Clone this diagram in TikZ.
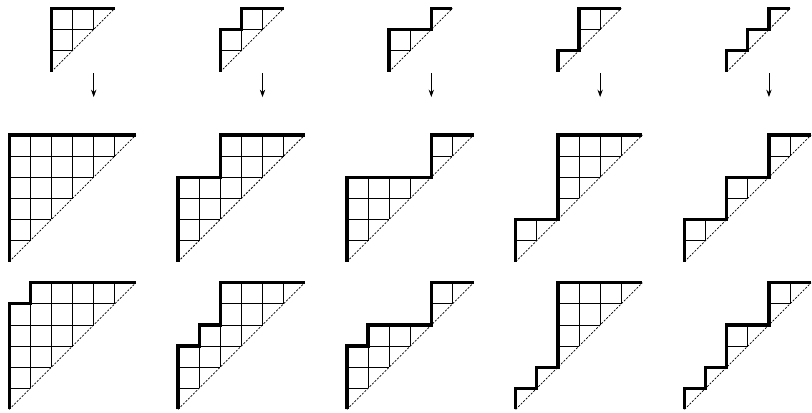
\documentclass[tikz,border=0pt]{standalone}
\usetikzlibrary{arrows.meta}

% #1 origin, #2 size, #3 heights of the columns
\newcommand{\dyck}[3]{%
  \begin{scope}[shift={#1}]
    \foreach \hgt [count=\col] in {#3} {
      \pgfmathtruncatemacro\lft{\col-1}
      \draw[cell] (\lft,\lft) -- (\lft,\hgt);
      \foreach \row in {\col,...,\hgt}
        \draw[cell] (\lft,\row) -- (\col,\row);
    }
    \draw[diag] (0,0) -- (#2,#2);
    \draw[dyckpath] (0,0) \foreach \hgt [count=\col] in {#3} { -- (\col-1,\hgt) -- (\col,\hgt) };
  \end{scope}}

\begin{document}
\begin{tikzpicture}[x=0.5cm, y=0.5cm,
    cell/.style={line width=0.5pt},
    diag/.style={line width=0.5pt, dash pattern=on 1.4pt off 1pt},
    dyckpath/.style={line width=2.2pt},
    >={Stealth[length=5pt,width=3.6pt]}]
  \useasboundingbox (-0.44,-0.13) rectangle (38.04,19.4);

  % size 3
  \dyck{(2,16)}{3}{3,3,3}
  \dyck{(10,16)}{3}{2,3,3}
  \dyck{(18,16)}{3}{2,2,3}
  \dyck{(26,16)}{3}{1,3,3}
  \dyck{(34,16)}{3}{1,2,3}

  % steps doubled
  \dyck{(0,7)}{6}{6,6,6,6,6,6}
  \dyck{(8,7)}{6}{4,4,6,6,6,6}
  \dyck{(16,7)}{6}{4,4,4,4,6,6}
  \dyck{(24,7)}{6}{2,2,6,6,6,6}
  \dyck{(32,7)}{6}{2,2,4,4,6,6}

  \dyck{(0,0)}{6}{5,6,6,6,6,6}
  \dyck{(8,0)}{6}{3,4,6,6,6,6}
  \dyck{(16,0)}{6}{3,4,4,4,6,6}
  \dyck{(24,0)}{6}{1,2,6,6,6,6}
  \dyck{(32,0)}{6}{1,2,4,4,6,6}

  \foreach \k in {0,...,4} {
    \coordinate (from\k) at (8*\k+4,15.94);
    \coordinate (to\k) at (8*\k+4,14.8);
    \draw[->, line width=0.6pt] (from\k) -- (to\k);
  }
\end{tikzpicture}
\end{document}
